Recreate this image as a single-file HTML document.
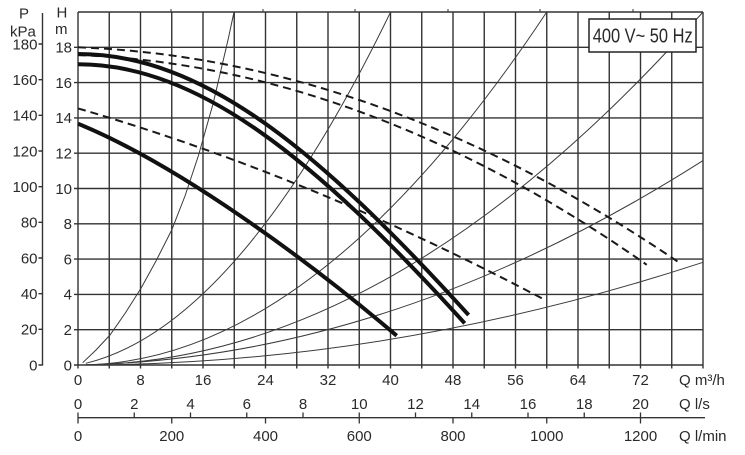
<!DOCTYPE html>
<html><head><meta charset="utf-8"><style>
html,body{margin:0;padding:0;background:#fff;}
svg{display:block;}
text{font-family:"Liberation Sans",Arial,sans-serif;fill:#2a2a2a;}
</style></head><body>
<svg width="745" height="455" viewBox="0 0 745 455" xmlns="http://www.w3.org/2000/svg">
<rect width="745" height="455" fill="#fff"/>
<!-- grid -->
<g stroke="#333" stroke-width="1.4" fill="none">
<path d="M78,12V368.5M109.25,12V368.5M140.5,12V368.5M171.75,12V368.5M203,12V368.5M234.25,12V368.5M265.5,12V368.5M296.75,12V368.5M328,12V368.5M359.25,12V368.5M390.5,12V368.5M421.75,12V368.5M453,12V368.5M484.25,12V368.5M515.5,12V368.5M546.75,12V368.5M578,12V368.5M609.25,12V368.5M640.5,12V368.5M671.75,12V368.5M703,12V368.5"/>
<path d="M74,365H703M74,329.7H703M74,294.4H703M74,259.1H703M74,223.8H703M74,188.5H703M74,153.2H703M74,117.9H703M74,82.6H703M74,47.3H703M78,12H703"/>
<path d="M171,9V12M263,9V12M355,9V12M448,9V12M540,9V12M633,9V12" stroke-width="1"/>
</g>
<!-- P axis -->
<g stroke="#333" stroke-width="1.4" fill="none">
<path d="M42.5,13V365.5"/>
<path d="M38.5,365H42.5M38.5,329.3H42.5M38.5,293.7H42.5M38.5,258H42.5M38.5,222.3H42.5M38.5,186.7H42.5M38.5,151H42.5M38.5,115.3H42.5M38.5,79.7H42.5M38.5,44H42.5"/>
</g>
<g font-size="15" text-anchor="end">
<text x="37.5" y="370.3">0</text>
<text x="37.5" y="334.6">20</text>
<text x="37.5" y="299">40</text>
<text x="37.5" y="263.3">60</text>
<text x="37.5" y="227.6">80</text>
<text x="37.5" y="192">100</text>
<text x="37.5" y="156.3">120</text>
<text x="37.5" y="120.6">140</text>
<text x="37.5" y="85">160</text>
<text x="37.5" y="49.3">180</text>
<text x="72" y="370.3">0</text>
<text x="72" y="335">2</text>
<text x="72" y="299.7">4</text>
<text x="72" y="264.4">6</text>
<text x="72" y="229.1">8</text>
<text x="72" y="193.8">10</text>
<text x="72" y="158.5">12</text>
<text x="72" y="123.2">14</text>
<text x="72" y="87.9">16</text>
<text x="72" y="52.6">18</text>
</g>
<g font-size="15">
<text x="19" y="18.5">P</text>
<text x="10" y="36.7">kPa</text>
<text x="56.5" y="17.5">H</text>
<text x="55" y="34">m</text>
</g>
<!-- bottom labels -->
<g font-size="15" text-anchor="middle">
<text x="78" y="385">0</text>
<text x="140.5" y="385">8</text>
<text x="203" y="385">16</text>
<text x="265.5" y="385">24</text>
<text x="328" y="385">32</text>
<text x="390.5" y="385">40</text>
<text x="453" y="385">48</text>
<text x="515.5" y="385">56</text>
<text x="578" y="385">64</text>
<text x="640.5" y="385">72</text>
<text x="78" y="409">0</text>
<text x="134.25" y="409">2</text>
<text x="190.5" y="409">4</text>
<text x="246.75" y="409">6</text>
<text x="303" y="409">8</text>
<text x="359.25" y="409">10</text>
<text x="415.5" y="409">12</text>
<text x="471.75" y="409">14</text>
<text x="528" y="409">16</text>
<text x="584.25" y="409">18</text>
<text x="640.5" y="409">20</text>
<text x="78" y="441">0</text>
<text x="171.75" y="441">200</text>
<text x="265.5" y="441">400</text>
<text x="359.25" y="441">600</text>
<text x="453" y="441">800</text>
<text x="546.75" y="441">1000</text>
<text x="640.5" y="441">1200</text>
</g>
<g font-size="15">
<text x="679" y="385">Q m³/h</text>
<text x="679" y="409">Q l/s</text>
<text x="679" y="441">Q l/min</text>
</g>
<g stroke="#333" stroke-width="1.3" fill="none">
<path d="M78,417.7H705"/>
<path d="M78,412.5V423.5M134.25,412.5V417.7M190.5,412.5V417.7M246.75,412.5V417.7M303,412.5V417.7M359.25,412.5V417.7M415.5,412.5V417.7M471.75,412.5V417.7M528,412.5V417.7M584.25,412.5V417.7M640.5,412.5V423.5"/>
<path d="M171.75,417.7V423.5M265.5,417.7V423.5M359.25,417.7V423.5M453,417.7V423.5M546.75,417.7V423.5"/>
</g>
<!-- thin system curves -->
<g stroke="#3a3a3a" stroke-width="1" fill="none">
<polyline points="82.7,362.7 96,350 110,335 125,313.5 141,288.3 156,261 171.7,230 185,196 198.3,156 213,104 228,40 234,12"/>
<path d="M85.8,363.3 Q238.2,326 390.5,12.2"/>
<path d="M85.8,364.9 Q316.3,359.1 546.75,12"/>
<path d="M85.8,364.9 Q394.4,360.6 703,12"/>
<path d="M85.8,364.8 Q394.4,356.9 703,160.6"/>
<path d="M85.8,365 Q394.4,363.7 703,262.3"/>
</g>
<!-- dashed curves -->
<g stroke="#1a1a1a" stroke-width="2" fill="none" stroke-dasharray="8 5">
<path d="M78,47.3 Q378,58.5 678,261.8"/>
<path d="M78,55.1 Q362.4,65.3 646.75,264.8"/>
<path d="M78,108.4 Q311.6,176.4 545.2,300.1"/>
</g>
<!-- thick curves -->
<g stroke="#111" stroke-width="4" fill="none" stroke-linejoin="round">
<path d="M78,54 C203,54 318.6,150 468.6,315"/>
<path d="M78,64.3 C198,64.3 314.7,158.3 464.7,323.3"/>
<path d="M78,123.7 C178,164.7 306.7,259.2 396.7,335.7"/>
</g>
<!-- legend -->
<rect x="589" y="19" width="107" height="33" fill="#fff" stroke="#222" stroke-width="1.5"/>
<text x="592.7" y="42.7" font-size="20" textLength="100" lengthAdjust="spacingAndGlyphs">400 V~ 50 Hz</text>
</svg>
</body></html>
